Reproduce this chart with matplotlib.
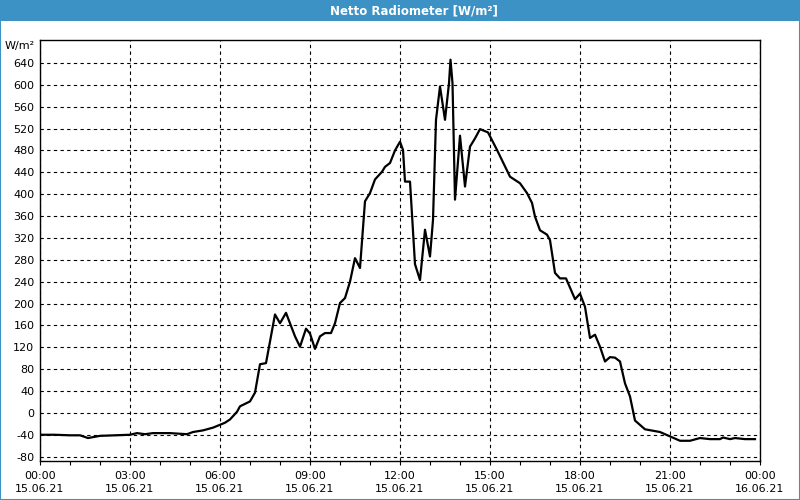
import numpy as np
import matplotlib
matplotlib.use('Agg')
import matplotlib.pyplot as plt
from matplotlib.patches import Rectangle

# minutes after midnight (15.06.21) and net radiation in W/m²
minutes = [0, 30, 60, 80, 96, 120, 150, 180, 194, 210, 226, 260, 294, 306, 326, 346,
           370, 380, 394, 400, 420, 430, 440, 452, 470, 480, 492, 510, 520, 532, 540,
           550, 560, 570, 582, 590, 600, 610, 620, 630, 640, 650, 660, 670, 684, 690,
           700, 710, 720, 726, 730, 740, 750, 760, 770, 780, 786, 792, 800, 810, 818,
           821, 825, 830, 840, 850, 860, 870, 880, 896, 914, 940, 960, 974, 984, 990,
           1000, 1014, 1020, 1030, 1040, 1052, 1070, 1080, 1090, 1100, 1110, 1120,
           1130, 1140, 1150, 1160, 1170, 1180, 1190, 1210, 1240, 1260, 1280, 1300,
           1320, 1340, 1360, 1366, 1380, 1390, 1410, 1430]
values = [-40, -40, -41, -41, -46, -42, -41, -40, -37, -39, -37, -37, -39, -35, -32, -27,
          -18, -12, 2, 12, 21, 37, 89, 91, 180, 164, 183, 140, 121, 154, 145,
          117, 140, 146, 146, 164, 201, 210, 240, 283, 265, 387, 402, 427, 441, 450,
          457, 480, 496, 481, 423, 423, 272, 243, 335, 286, 353, 536, 597, 536, 603,
          646, 603, 390, 507, 414, 487, 502, 519, 513, 481, 432, 420, 402, 384, 359,
          334, 326, 316, 256, 246, 246, 208, 218, 194, 137, 143, 121,
          94, 102, 101, 94, 54, 30, -14, -30, -35, -43, -51, -51,
          -46, -48, -48, -45, -48, -46, -48, -48]

tick_minutes = np.arange(0, 1441, 180)
tick_labels = ['00:00\n15.06.21', '03:00\n15.06.21', '06:00\n15.06.21', '09:00\n15.06.21',
               '12:00\n15.06.21', '15:00\n15.06.21', '18:00\n15.06.21', '21:00\n15.06.21',
               '00:00\n16.06.21']
y_ticks = np.arange(-80, 641, 40)

blue = '#3c92c5'

fig = plt.figure(figsize=(8, 5), dpi=100)
fig.patch.set_facecolor('white')

# title bar
fig.patches.append(Rectangle((0, 1 - 21 / 500), 1, 21 / 500, transform=fig.transFigure,
                             facecolor=blue, edgecolor='none', zorder=0))
fig.patches.append(Rectangle((0.0006, 0.001), 0.9988, 0.998, transform=fig.transFigure,
                             facecolor='none', edgecolor=blue, linewidth=1.5, zorder=5))
fig.text(0.5175, 1 - 11 / 500, 'Netto Radiometer [W/m²]', color='white', fontsize=8.5,
         fontweight='bold', ha='center', va='center',
         family=['Liberation Sans Narrow', 'DejaVu Sans'])

ax = fig.add_axes([40 / 800, 39 / 500, 720 / 800, 421 / 500])
ax.plot(minutes, values, color='black', linewidth=1.6, zorder=3)

ax.set_xlim(0, 1440)
ax.set_ylim(-88, 682)
ax.set_xticks(tick_minutes)
ax.set_xticklabels(tick_labels, fontsize=8, linespacing=1.45)
ax.set_xticks(np.arange(0, 1441, 60), minor=True)
ax.set_yticks(y_ticks)
ax.set_yticklabels([str(v) for v in y_ticks], fontsize=8)

ax.tick_params(axis='x', which='both', direction='out', length=3, width=0.8, pad=4)
ax.tick_params(axis='y', length=0, pad=4)
ax.grid(True, which='major', color='black', linestyle=(0, (3, 3)), linewidth=0.8)
for s in ax.spines.values():
    s.set_linewidth(1.0)

fig.text(35 / 800, 1 - 46 / 500, 'W/m²', fontsize=8, ha='right', va='center')

fig.savefig('out.png', dpi=100)
